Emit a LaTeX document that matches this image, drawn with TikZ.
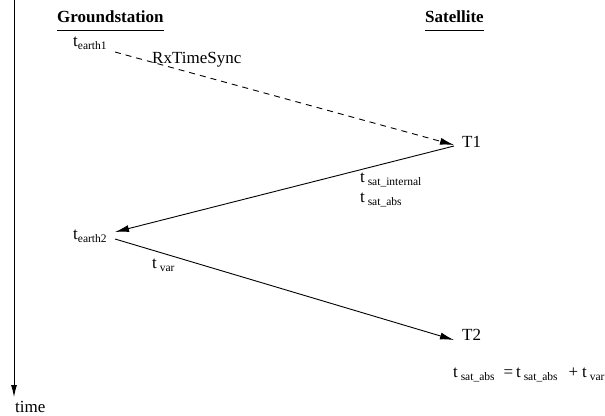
\documentclass[tikz,border=0pt]{standalone}
\usepackage{fontspec}
\setmainfont{Liberation Serif}
\usetikzlibrary{arrows.meta}
\newcommand{\sbs}[1]{\raisebox{-3pt}{\fontsize{11.5}{12}\selectfont #1}}
\begin{document}
\begin{tikzpicture}[x=1pt,y=-1pt,
  every node/.style={inner sep=0pt, font=\fontsize{17}{20}\selectfont},
  lbl/.style={anchor=base west},
  head/.style={anchor=base west, font=\fontsize{17}{20}\selectfont\bfseries},
  msg/.style={line width=0.9pt, -{Latex[length=14pt,width=7pt]}},
  req/.style={msg, dash pattern=on 6pt off 5pt}]
\useasboundingbox (0,0) rectangle (605,415);
% time axis
\coordinate (ttop) at (14,0);
\coordinate (tbot) at (14,397);
\draw[line width=0.9pt,-{Latex[length=12pt,width=6pt]}] (ttop) -- (tbot);
\node[lbl] (time) at (15,412) {time};
% headings
\node[head] (gs) at (57,23) {Groundstation};
\node[head] (sat) at (425,23) {Satellite};
\draw[line width=0.8pt] ([yshift=-7pt]gs.base west) -- ([yshift=-7pt]gs.base east);
\draw[line width=0.8pt] ([yshift=-7pt]sat.base west) -- ([yshift=-7pt]sat.base east);
% labels
\node[lbl] (te1) at (73,46) {t\sbs{earth1}};
\node[lbl] (rx) at (152,63) {RxTimeSync};
\node[lbl] (t1) at (462,147) {T1};
\node[lbl] (tsi) at (360,182) {t\,\sbs{sat\_internal}};
\node[lbl] (tsa) at (360,202) {t\,\sbs{sat\_abs}};
\node[lbl] (te2) at (73,239) {t\sbs{earth2}};
\node[lbl] (tvar) at (152,268) {t\,\sbs{var}};
\node[lbl] (t2) at (462,340) {T2};
\node[lbl] (form) at (453,377) {t\,\sbs{sat\_abs}\hspace{9pt}=\hspace{3pt}t\,\sbs{sat\_abs}\hspace{11pt}+\hspace{4pt}t\,\sbs{var}};
% message points
\coordinate (e1) at (115,52);
\coordinate (p1) at (454,145);
\coordinate (p1b) at (454,146);
\coordinate (e2) at (115,232);
\coordinate (e2b) at (115,239);
\coordinate (p2) at (454,340);
\draw[req] (e1) -- (p1);
\draw[msg] (p1b) -- (e2);
\draw[msg] (e2b) -- (p2);
\end{tikzpicture}
\end{document}
